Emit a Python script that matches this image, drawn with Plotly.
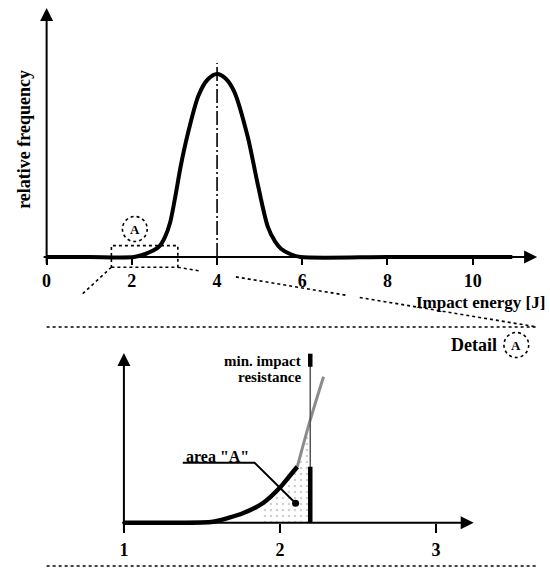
import plotly.graph_objects as go

# ---------------- data ----------------
# overview: relative frequency of impact energy
energy = [0.0, 1.0, 2.05, 2.3, 2.5, 2.65, 2.78, 2.9, 3.02, 3.15, 3.3, 3.56, 3.78, 4.0,
          4.2, 4.41, 4.72, 4.95, 5.19, 5.36, 5.5, 5.73, 5.96, 8.0, 10.0, 10.93]
rel_freq = [0.0, 0.0, 0.0, 0.015, 0.035, 0.06, 0.11, 0.19, 0.33, 0.5, 0.66, 0.88, 0.97, 1.0,
            0.975, 0.9, 0.657, 0.403, 0.166, 0.085, 0.045, 0.015, 0.0, 0.0, 0.0, 0.0]
top_ticks = [0, 2, 4, 6, 8, 10]
mean_energy = 4.0
detail_window = [1.52, 3.08]

# detail A
detail_energy = [1.0, 1.3, 1.571, 1.762, 1.889, 2.005, 2.058, 2.111]
detail_freq = [0.0, 0.0, 0.006, 0.056, 0.115, 0.213, 0.272, 0.331]
beyond_energy = [2.111, 2.194, 2.279]
beyond_freq = [0.331, 0.608, 0.864]
detail_ticks = [1, 2, 3]
min_resistance = 2.194

# ---------------- geometry helpers ----------------
W, H = 550, 568
FONT = "Liberation Serif, Times New Roman, serif"


def X(p):
    return p / W


def Y(p):
    return 1 - p / H


# top frame (pixel mapping)
T_X0, T_SX, T_Y0, T_SY = 42.0, 43.0, 257.0, 183.0
# bottom frame
B_X0, B_SX, B_Y0, B_SY = 120.0, 157.5, 522.7, 169.0


def tpx(v):
    return T_X0 + T_SX * v


def tpy(v):
    return T_Y0 - T_SY * v


def bpx(v):
    return B_X0 + B_SX * (v - 1)


def bpy(v):
    return B_Y0 - B_SY * v


fig = go.Figure()

# ---------------- top chart ----------------
fig.add_trace(go.Scatter(x=energy, y=rel_freq, mode="lines",
                         line=dict(color="black", width=4, shape="spline", smoothing=0.8),
                         xaxis="x", yaxis="y", hoverinfo="skip"))
fig.add_trace(go.Scatter(x=[mean_energy, mean_energy], y=[0, 1.06], mode="lines",
                         line=dict(color="black", width=1.6, dash="14px,3px,2px,3px"),
                         xaxis="x", yaxis="y", hoverinfo="skip"))

# ---------------- detail chart ----------------
# stippled area "A"
fx = [e for e in detail_energy if e >= 1.88] + [beyond_energy[1]]
fy = [f for e, f in zip(detail_energy, detail_freq) if e >= 1.88] + [beyond_freq[1]]
fx = fx + [min_resistance, fx[0]]
fy = fy + [0, 0]
fig.add_trace(go.Scatter(x=fx, y=fy, mode="lines", fill="toself",
                         fillcolor="rgba(0,0,0,0)",
                         fillpattern=dict(shape=".", fgcolor="#999", size=6, solidity=0.12),
                         line=dict(width=0), xaxis="x2", yaxis="y2", hoverinfo="skip"))
fig.add_trace(go.Scatter(x=beyond_energy, y=beyond_freq, mode="lines",
                         line=dict(color="#8c8c8c", width=3, shape="spline"),
                         xaxis="x2", yaxis="y2", hoverinfo="skip"))
fig.add_trace(go.Scatter(x=detail_energy, y=detail_freq, mode="lines",
                         line=dict(color="black", width=4.5, shape="spline", smoothing=0.6),
                         xaxis="x2", yaxis="y2", hoverinfo="skip"))
# min. impact resistance line
fig.add_trace(go.Scatter(x=[min_resistance, min_resistance], y=[0, 1.0], mode="lines",
                         line=dict(color="#555", width=1.5),
                         xaxis="x2", yaxis="y2", hoverinfo="skip"))
fig.add_trace(go.Scatter(x=[min_resistance, min_resistance], y=[0.923, 1.0], mode="lines",
                         line=dict(color="black", width=4.5),
                         xaxis="x2", yaxis="y2", hoverinfo="skip"))
fig.add_trace(go.Scatter(x=[min_resistance, min_resistance], y=[0, detail_freq[-1]], mode="lines",
                         line=dict(color="black", width=4.5),
                         xaxis="x2", yaxis="y2", hoverinfo="skip"))
# leader for area "A"
fig.add_trace(go.Scatter(x=[1.377, 1.837, 2.10], y=[0.355, 0.355, 0.115], mode="lines",
                         line=dict(color="black", width=2),
                         xaxis="x2", yaxis="y2", hoverinfo="skip"))
fig.add_trace(go.Scatter(x=[2.10], y=[0.115], mode="markers",
                         marker=dict(color="black", size=7, symbol="circle"),
                         xaxis="x2", yaxis="y2", hoverinfo="skip"))

tickfont = dict(family=FONT, size=18, color="black", weight="bold")

fig.update_layout(
    width=W, height=H, showlegend=False,
    margin=dict(l=0, r=0, t=0, b=0),
    paper_bgcolor="white", plot_bgcolor="rgba(0,0,0,0)",
    xaxis=dict(domain=[X(T_X0), X(540)], range=[0, (540 - T_X0) / T_SX],
               anchor="free", position=Y(T_Y0),
               tickvals=top_ticks, ticks="outside", ticklen=7, tickwidth=2,
               tickcolor="black", tickfont=tickfont, ticklabelstandoff=0,
               showgrid=False, zeroline=False, showline=False),
    yaxis=dict(domain=[Y(272), Y(5)], range=[-(272 - T_Y0) / T_SY, (T_Y0 - 5) / T_SY],
               visible=False),
    xaxis2=dict(domain=[X(B_X0), X(476)], range=[1, 1 + (476 - B_X0) / B_SX],
                anchor="free", position=Y(B_Y0),
                tickvals=detail_ticks, ticks="outside", ticklen=9, tickwidth=2,
                tickcolor="black", tickfont=tickfont, ticklabelstandoff=2,
                showgrid=False, zeroline=False, showline=False),
    yaxis2=dict(domain=[Y(531), Y(345)], range=[-(531 - B_Y0) / B_SY, (B_Y0 - 345) / B_SY],
                visible=False),
)

ann = []


def arrow(x0, y0, x1, y1, width=2):
    ann.append(dict(xref="paper", yref="paper", x=X(x1), y=Y(y1),
                    ax=x0 - x1, ay=y0 - y1, axref="pixel", ayref="pixel",
                    text="", showarrow=True, arrowhead=2, arrowsize=1.3,
                    arrowwidth=width, arrowcolor="black"))


# axes with arrows
arrow(tpx(0), T_Y0, 537, T_Y0)
arrow(tpx(0), T_Y0 + 8, tpx(0), 8)
arrow(bpx(1), B_Y0, 473, B_Y0)
arrow(bpx(1), B_Y0 + 9, bpx(1), 353)


def text(s, x, y, size=17, xanchor="center", angle=0):
    ann.append(dict(xref="paper", yref="paper", x=X(x), y=Y(y), text=s,
                    showarrow=False, xanchor=xanchor, yanchor="middle",
                    textangle=angle,
                    font=dict(family=FONT, size=size, color="black", weight="bold")))


text("relative frequency", 19, 139, size=18, angle=-90)
text("Impact energy [J]", 547, 302, size=17, xanchor="right")
text("Detail", 499, 345, size=18, xanchor="right")
text("A", tpx(2.07), 229.5, size=13)
text("A", 516, 345.5, size=13)
text("min. impact", 301, 361, size=15, xanchor="right")
text("resistance", 301, 377, size=15, xanchor="right")
text('area "A"', 214, 456, size=16)

fig.update_layout(annotations=ann)

shapes = []


def dline(x0, y0, x1, y1, width=1.6):
    shapes.append(dict(type="line", xref="paper", yref="paper",
                       x0=X(x0), y0=Y(y0), x1=X(x1), y1=Y(y1),
                       line=dict(color="black", width=width, dash="dot")))


# zoom window on top chart
shapes.append(dict(type="rect", xref="x", yref="y",
                   x0=detail_window[0], x1=detail_window[1], y0=-0.056, y1=0.062,
                   line=dict(color="black", width=1.6, dash="dot")))
bx0, bx1, by = tpx(detail_window[0]), tpx(detail_window[1]), tpy(-0.056)
# connector lines
lx, ly = 42, 327
f = 0.45
dline(bx0, by, bx0 + (lx - bx0) * f, by + (ly - by) * f)
rx, ry = 537, 327


def seg(t0, t1):
    dline(bx1 + (rx - bx1) * t0, by + (ry - by) * t0,
          bx1 + (rx - bx1) * t1, by + (ry - by) * t1)


seg(0.0, (198 - bx1) / (rx - bx1))
seg((233 - bx1) / (rx - bx1), (345 - bx1) / (rx - bx1))
seg((358 - bx1) / (rx - bx1), 1.0)
# separator lines
dline(42, 327, 537, 327)
dline(42, 566, 537, 566)
# dotted circles
for cx, cy in [(tpx(2.07), 229), (516, 345)]:
    shapes.append(dict(type="circle", xref="paper", yref="paper",
                       x0=X(cx - 12.5), x1=X(cx + 12.5), y0=Y(cy + 12.5), y1=Y(cy - 12.5),
                       line=dict(color="black", width=1.6, dash="dot")))

fig.update_layout(shapes=shapes)

fig.write_html("out.html", config={"displayModeBar": False},
               post_script="document.body.style.margin='0px';document.body.style.overflow='hidden';")
